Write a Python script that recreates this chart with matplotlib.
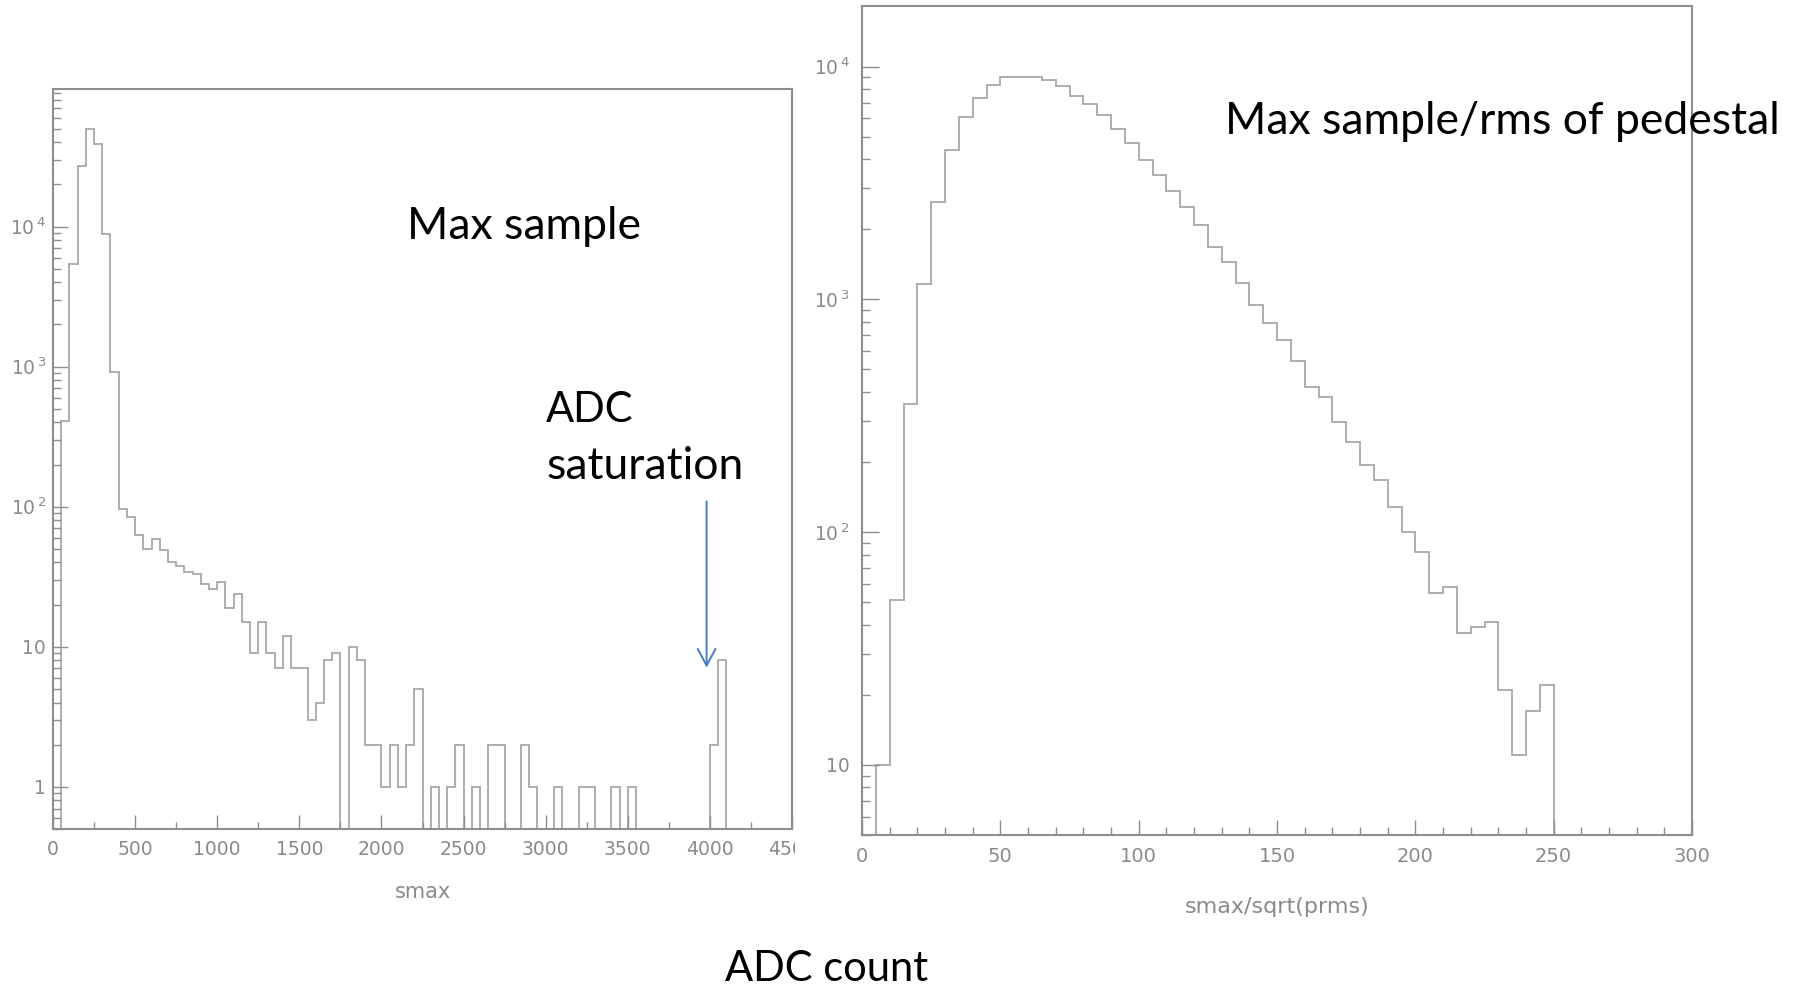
import numpy as np
import matplotlib
matplotlib.use("Agg")
import matplotlib.pyplot as plt
from matplotlib.ticker import FixedLocator, FixedFormatter, MultipleLocator, LogLocator, NullFormatter
from matplotlib.patches import Rectangle

# ---------------- data ----------------
# Left: max sample (ADC counts), bins of 50 from 0 to 4500
smax_bin_width = 50
smax_range = (0, 4500)
smax_counts = [
    0, 410, 5400, 27000, 50000, 39000, 8800, 920, 97, 85,          # 0-499
    63, 50, 59, 49, 40, 38, 34, 33, 28, 26,                         # 500-999
    29, 19, 24, 15, 9, 15, 9, 7, 12, 7,                             # 1000-1499
    7, 3, 4, 8, 9, 0, 10, 8, 2, 2,                                  # 1500-1999
    1, 2, 1, 2, 5, 0, 1, 0, 1, 2,                                   # 2000-2499
    0, 1, 0, 2, 2, 0, 0, 2, 1, 0,                                   # 2500-2999
    0, 1, 0, 0, 1, 1, 0, 0, 1, 0,                                   # 3000-3499
    1, 0, 0, 0, 0, 0, 0, 0, 0, 0,                                   # 3500-3999
    2, 8, 0, 0, 0, 0, 0, 0, 0, 0,                                   # 4000-4499
]
# Right: max sample / sqrt(pedestal rms), bins of 5 from 0 to 300
ratio_bin_width = 5
ratio_range = (0, 300)
ratio_counts = [
    0, 10, 51, 355, 1160, 2620, 4360, 6070, 7360, 8350,            # 0-49
    9060, 9060, 9060, 8770, 8260, 7480, 6900, 6170, 5390, 4680,     # 50-99
    3955, 3410, 2910, 2490, 2095, 1680, 1450, 1172, 947, 789,       # 100-149
    669, 544, 419, 379, 296, 244, 195, 168, 128, 100,               # 150-199
    82, 55, 58, 37, 39, 41, 21, 11, 17, 22,                         # 200-249
    0, 0, 0, 0, 0, 0, 0, 0, 0, 0,                                   # 250-299
]

left_ytick_vals = [1, 10, 100, 1000, 10000]
left_ytick_labels = ["1", "10", r"$10^{\,2}$", r"$10^{\,3}$", r"$10^{\,4}$"]
right_ytick_vals = [10, 100, 1000, 10000]
right_ytick_labels = ["10", r"$10^{\,2}$", r"$10^{\,3}$", r"$10^{\,4}$"]
left_xlabel = "smax"
right_xlabel = "smax/sqrt(prms)"
arrow_x = 3980
arrow_y_from, arrow_y_to = 109, 7.1

# ---------------- style ----------------
W, H = 1800, 986
HIST_C = "#a8a8a8"
SPINE_C = "#8e8e8e"
LABEL_C = "#8a8a8a"
TEXT_FONT = ["Lato", "DejaVu Sans"]

fig = plt.figure(figsize=(W / 100, H / 100), dpi=100)
fig.patch.set_facecolor("white")


def ax_rect(l, t, r, b):
    return [l / W, 1 - b / H, (r - l) / W, (b - t) / H]


def fxy(x, y):
    return x / W, 1 - y / H


def style_axes(ax):
    for s in ax.spines.values():
        s.set_color(SPINE_C)
        s.set_linewidth(1.5)
    ax.tick_params(which="both", direction="in", color=SPINE_C, width=1.0,
                   labelcolor=LABEL_C, labelsize=13.5, top=False, right=False)
    ax.tick_params(axis="x", which="major", length=10, pad=8)
    ax.tick_params(axis="x", which="minor", length=5)
    ax.tick_params(axis="y", which="major", length=11, pad=5)
    ax.tick_params(axis="y", which="minor", length=6)


# ---------------- left panel ----------------
axL = fig.add_axes(ax_rect(53, 89, 792, 829))
edgesL = np.arange(smax_range[0], smax_range[1] + smax_bin_width, smax_bin_width)
axL.set_yscale("log")
axL.stairs(smax_counts, edgesL, color=HIST_C, linewidth=1.3, baseline=0)
axL.set_xlim(*smax_range)
axL.set_ylim(0.5, 9.6e4)
axL.xaxis.set_major_locator(MultipleLocator(500))
axL.xaxis.set_minor_locator(MultipleLocator(250))
axL.yaxis.set_major_locator(FixedLocator(left_ytick_vals))
axL.yaxis.set_major_formatter(FixedFormatter(left_ytick_labels))
axL.yaxis.set_minor_locator(LogLocator(base=10, subs=np.arange(2, 10), numticks=20))
axL.yaxis.set_minor_formatter(NullFormatter())
style_axes(axL)

axL.annotate("", xy=(arrow_x, arrow_y_to), xytext=(arrow_x, arrow_y_from),
             xycoords="data", textcoords="data",
             arrowprops=dict(arrowstyle="->,head_length=0.6,head_width=0.32",
                             color="#4a7cc0", lw=1.4, shrinkA=0, shrinkB=0,
                             mutation_scale=20))

# ---------------- right panel ----------------
axR = fig.add_axes(ax_rect(862, 6, 1692, 835))
edgesR = np.arange(ratio_range[0], ratio_range[1] + ratio_bin_width, ratio_bin_width)
axR.set_yscale("log")
axR.stairs(ratio_counts, edgesR, color=HIST_C, linewidth=1.3, baseline=0)
axR.set_xlim(*ratio_range)
axR.set_ylim(5.0, 1.82e4)
axR.xaxis.set_major_locator(MultipleLocator(50))
axR.xaxis.set_minor_locator(MultipleLocator(10))
axR.yaxis.set_major_locator(FixedLocator(right_ytick_vals))
axR.yaxis.set_major_formatter(FixedFormatter(right_ytick_labels))
axR.yaxis.set_minor_locator(LogLocator(base=10, subs=np.arange(2, 10), numticks=20))
axR.yaxis.set_minor_formatter(NullFormatter())
style_axes(axR)
axR.tick_params(axis="y", which="major", length=12, pad=9)
axR.tick_params(axis="x", which="major", length=11, pad=9, labelsize=14)
axR.tick_params(axis="x", which="minor", length=6)

# axis labels (small, gray)
fig.text(*fxy(423, 898), left_xlabel, ha="center", va="baseline",
         color=LABEL_C, fontsize=15)
fig.text(*fxy(1277, 913), right_xlabel, ha="center", va="baseline",
         color=LABEL_C, fontsize=16)

# clip the cut-off "4500" label like the screenshot
fig.patches.append(Rectangle(fxy(795, 866), 58 / W, 32 / H, transform=fig.transFigure,
                             facecolor="white", edgecolor="none", zorder=10))

# ---------------- annotation texts ----------------
fig.text(*fxy(407, 239), "Max sample", ha="left", va="baseline",
         fontsize=32, family=TEXT_FONT, color="black")
fig.text(*fxy(1225, 134), "Max sample/rms of pedestal", ha="left", va="baseline",
         fontsize=32, family=TEXT_FONT, color="black")
fig.text(*fxy(546, 422), "ADC", ha="left", va="baseline",
         fontsize=30, family=TEXT_FONT, color="black")
fig.text(*fxy(546, 479), "saturation", ha="left", va="baseline",
         fontsize=32, family=TEXT_FONT, color="black")
fig.text(*fxy(725, 981), "ADC count", ha="left", va="baseline",
         fontsize=30, family=TEXT_FONT, color="black")

fig.savefig("out.png", dpi=100, facecolor="white")
